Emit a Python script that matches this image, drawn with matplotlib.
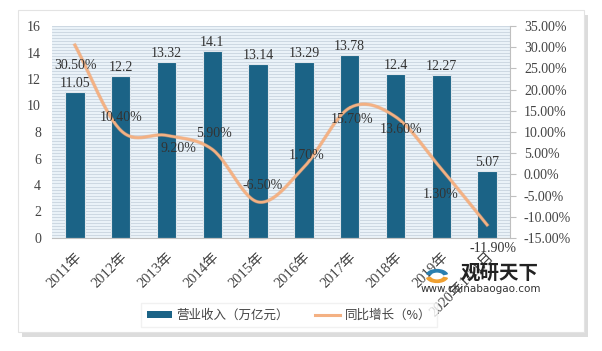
import matplotlib.pyplot as plt
import numpy as np
from matplotlib.patches import Rectangle, Wedge
from matplotlib.lines import Line2D
from matplotlib.patches import Patch

##########
# Data
##########

years = ['2011年', '2012年', '2013年', '2014年', '2015年', '2016年',
         '2017年', '2018年', '2019年', '2020年1-11月']
revenue = [11.05, 12.2, 13.32, 14.1, 13.14, 13.29, 13.78, 12.4, 12.27, 5.07]
growth = [30.5, 10.4, 9.2, 5.9, -6.5, 1.7, 15.7, 13.6, 1.3, -11.9]

# label offsets (points) for the growth labels
growth_off = [(0.7, -15), (0, 9.4), (8.3, -9.4), (1.4, 11.5), (2.9, 12.2),
              (2, 8.6), (2, -8.6), (4.3, -9.4), (-0.7, -18.7), (4.3, -17.3)]

serif = ['Liberation Serif', 'Noto Sans CJK SC']
cjk = ['Noto Sans CJK SC', 'DejaVu Sans']
bar_color = '#1b6386'
line_color = '#f4b183'


def smooth(x, y, n=30):
    # Catmull-Rom curve through the points
    x = np.asarray(x, float)
    y = np.asarray(y, float)
    px = np.concatenate([[2 * x[0] - x[1]], x, [2 * x[-1] - x[-2]]])
    py = np.concatenate([[2 * y[0] - y[1]], y, [2 * y[-1] - y[-2]]])
    xs, ys = [], []
    for i in range(1, len(px) - 2):
        t = np.linspace(0, 1, n)
        for arr, out in ((px, xs), (py, ys)):
            p0, p1, p2, p3 = arr[i - 1], arr[i], arr[i + 1], arr[i + 2]
            out.extend(0.5 * ((2 * p1) + (-p0 + p2) * t +
                              (2 * p0 - 5 * p1 + 4 * p2 - p3) * t ** 2 +
                              (-p0 + 3 * p1 - 3 * p2 + p3) * t ** 3))
    return np.array(xs), np.array(ys)


##########
# Figure
##########

fig = plt.figure(figsize=(6.02, 3.51), dpi=100)
W, H = 602, 351

# frame with shadow
fig.patches.append(Rectangle((22 / W, 1 - 337 / H), 566 / W, 322 / H,
                             transform=fig.transFigure, facecolor='#dcdcdc',
                             edgecolor='none', zorder=-3))
fig.patches.append(Rectangle((18 / W, 1 - 332 / H), 566 / W, 322 / H,
                             transform=fig.transFigure, facecolor='white',
                             edgecolor='#e3e3e3', lw=0.8, zorder=-2))

ax = fig.add_axes([52 / W, 1 - 238 / H, 458 / W, 212 / H])
ax.set_facecolor('#eaf2f8')
for yy in np.linspace(0, 1, 71):
    ax.axhline(yy * 16, color='#c8d3de', lw=0.6, zorder=0)

x = np.arange(len(years))
bars = ax.bar(x, revenue, width=0.42, color=bar_color,
              edgecolor='#dfe6ec', linewidth=0.8, zorder=2)
for xi, v in zip(x, revenue):
    ax.text(xi, v + 0.15, str(v), ha='center', va='bottom',
            fontsize=10, family=serif, color='#333333', zorder=5)

ax.set_xlim(-0.5, len(years) - 0.5)
ax.set_ylim(0, 16)
ax.set_yticks(range(0, 17, 2))
ax.set_xticks(x)
ax.set_xticklabels(years, rotation=45, ha='right', rotation_mode='anchor',
                   family=serif, fontsize=10.5, color='#444444')
ax.tick_params(axis='y', length=0, labelsize=10, labelcolor='#444444', pad=8)
ax.tick_params(axis='x', length=0, pad=9)
for lab in ax.get_yticklabels():
    lab.set_family(serif)
for s in ['top', 'left', 'right']:
    ax.spines[s].set_visible(False)
ax.spines['bottom'].set_color('#bfbfbf')

ax2 = ax.twinx()
ax2.set_ylim(-15, 35)
ax2.set_yticks(range(-15, 36, 5))
ax2.set_yticklabels(['%.2f%%' % v for v in range(-15, 36, 5)],
                    family=serif, fontsize=10, color='#444444')
ax2.tick_params(axis='y', length=4, color='#bfbfbf', pad=6)
for s in ['top', 'left', 'bottom']:
    ax2.spines[s].set_visible(False)
ax2.spines['right'].set_color('#bfbfbf')

sx, sy = smooth(x, growth)
ax2.plot(sx, sy, color='#e9a070', lw=2.6, zorder=3, alpha=0.5)
ax2.plot(sx, sy, color=line_color, lw=1.8, zorder=4)
for xi, v, off in zip(x, growth, growth_off):
    ax2.annotate('%.2f%%' % v, (xi, v), xytext=off, textcoords='offset points',
                 ha='center', va='center', fontsize=10, family=serif,
                 color='#333333', zorder=6)

# legend
handles = [Patch(facecolor=bar_color, edgecolor='none'),
           Line2D([0], [0], color=line_color, lw=2.2)]
leg = fig.legend(handles, ['营业收入（万亿元）', '同比增长（%）'],
                 loc='center', bbox_to_anchor=(289 / W, 1 - 315 / H),
                 ncol=2, frameon=True, prop={'family': cjk, 'size': 9},
                 handlelength=2.0, handleheight=0.5, columnspacing=2.1,
                 handletextpad=0.35, borderpad=0.45, fancybox=False)
leg.get_frame().set_edgecolor('#eeeeee')
for t in leg.get_texts():
    t.set_color('#444444')

# watermark
fig.patches.append(Wedge((437 / W, 1 - 276 / H), 11 / W, 200, 340, width=4 / W,
                         transform=fig.transFigure, color='#f0a030', zorder=5))
fig.patches.append(Wedge((437 / W, 1 - 276 / H), 11 / W, 20, 160, width=4 / W,
                         transform=fig.transFigure, color='#2a7fb0', zorder=5))
fig.text(500 / W, 1 - 273 / H, '观研天下', family=cjk, fontsize=14,
         fontweight='bold', color='#222222', ha='center', va='center')
fig.text(481 / W, 1 - 289 / H, 'www.chinabaogao.com', family='DejaVu Sans',
         fontsize=7.5, color='#333333', ha='center', va='center')

fig.savefig('out.png', dpi=100)
